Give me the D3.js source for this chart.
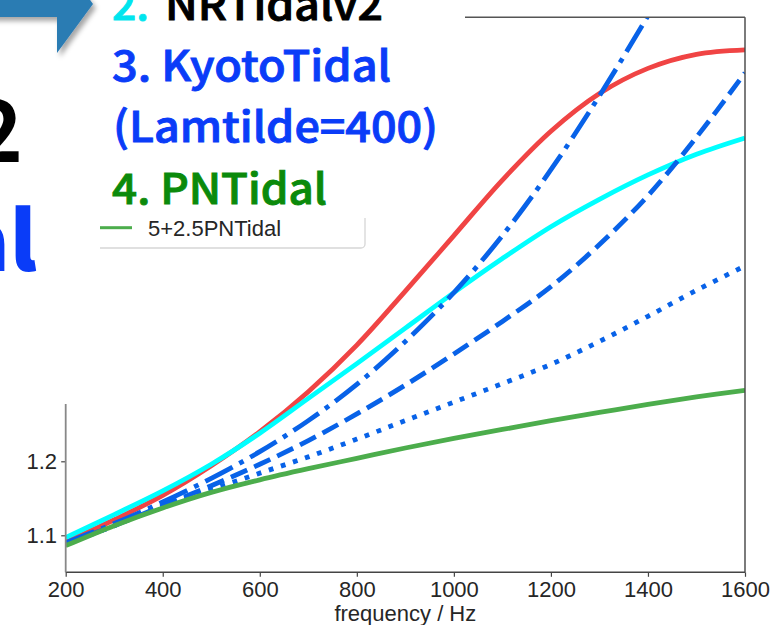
<!DOCTYPE html>
<html>
<head>
<meta charset="utf-8">
<script src="https://cdn.jsdelivr.net/npm/d3@7"></script>
<style>
  body { margin: 0; background: #fff; }
  svg { display: block; }
</style>
</head>
<body>
<svg id="chart" width="775" height="625"></svg>
<script>
// Frequencies (Hz) at which each tidal ratio curve is sampled
const freq = [200, 300, 400, 500, 600, 700, 800, 900, 1000, 1100, 1200, 1300, 1400, 1500, 1600];

// Curve values
const nrTidal      = [1.091, 1.121, 1.154, 1.194, 1.240, 1.294, 1.357, 1.430, 1.505, 1.580, 1.646, 1.697, 1.731, 1.750, 1.756];
const nrTidalV2    = [1.097, 1.128, 1.160, 1.196, 1.238, 1.285, 1.332, 1.380, 1.428, 1.474, 1.517, 1.554, 1.587, 1.615, 1.637];
const kyotoDashDot = [1.090, 1.116, 1.145, 1.177, 1.213, 1.255, 1.304, 1.362, 1.428, 1.505, 1.594, 1.694, 1.802, 1.915, 2.030];
const kyotoDashed  = [1.089, 1.113, 1.140, 1.167, 1.196, 1.228, 1.264, 1.303, 1.345, 1.389, 1.436, 1.493, 1.559, 1.638, 1.725];
const kyotoDotted  = [1.088, 1.113, 1.139, 1.162, 1.184, 1.206, 1.230, 1.255, 1.280, 1.305, 1.331, 1.362, 1.396, 1.431, 1.464];
const pnTidal      = [1.086, 1.113, 1.137, 1.158, 1.175, 1.190, 1.204, 1.218, 1.231, 1.243, 1.255, 1.266, 1.277, 1.287, 1.296];

// Axis ticks and labels
const xTicks = [200, 400, 600, 800, 1000, 1200, 1400, 1600];
const yTicks = [1.1, 1.2];
const xLabel = "frequency / Hz";
const legendLabel = "5+2.5PNTidal";

// Slide text beside the plot
const listLines = [
  { parts: [{ t: "2.", c: "#00e5ee", x: 112, w: 37 }, { t: "NRTidalv2", c: "#000000", x: 165, w: 218 }], y: 20 },
  { parts: [{ t: "3. KyotoTidal", c: "#0a3cf8", x: 112, w: 279 }], y: 81 },
  { parts: [{ t: "(Lamtilde=400)", c: "#0a3cf8", x: 113, w: 325 }], y: 142 },
  { parts: [{ t: "4. PNTidal", c: "#0b8a0b", x: 112, w: 215 }], y: 204 }
];

const series = [
  { values: nrTidal,      color: "#f04444", dash: null },
  { values: nrTidalV2,    color: "#00ffff", dash: null },
  { values: kyotoDashDot, color: "#0862e8", dash: "dashdot" },
  { values: kyotoDashed,  color: "#0862e8", dash: "dashed" },
  { values: kyotoDotted,  color: "#0862e8", dash: "dotted" },
  { values: pnTidal,      color: "#4cad4c", dash: null }
];

const lw = 4.8;
const dashes = {
  dashed:  [3.7 * lw, 1.6 * lw].join(","),
  dashdot: [6.4 * lw, 1.6 * lw, 1 * lw, 1.6 * lw].join(","),
  dotted:  [1 * lw, 1.65 * lw].join(",")
};

const svg = d3.select("#chart");
const plot = { left: 65.7, right: 745, top: 17.3, bottom: 572.3 };

const x = d3.scaleLinear().domain([200, 1600]).range([plot.left, plot.right]);
const y = d3.scaleLinear().domain([1.05, 1.8]).range([plot.bottom, plot.top]);

const defs = svg.append("defs");
defs.append("clipPath").attr("id", "plotClip")
  .append("rect")
  .attr("x", plot.left).attr("y", plot.top)
  .attr("width", plot.right - plot.left).attr("height", plot.bottom - plot.top);

const shadow = defs.append("filter").attr("id", "arrowShadow")
  .attr("x", "-20%").attr("y", "-20%").attr("width", "150%").attr("height", "150%");
shadow.append("feDropShadow")
  .attr("dx", 3).attr("dy", 4).attr("stdDeviation", 2.5)
  .attr("flood-color", "#000").attr("flood-opacity", 0.35);

const tickFont = "'Liberation Sans', Arial, Helvetica, sans-serif";
const textColor = "#262626";

// Curves
const line = d3.line()
  .x((d, i) => x(freq[i]))
  .y(d => y(d))
  .curve(d3.curveCatmullRom.alpha(0.5));

const curves = svg.append("g").attr("clip-path", "url(#plotClip)");
series.forEach(s => {
  curves.append("path")
    .datum(s.values)
    .attr("d", line)
    .attr("fill", "none")
    .attr("stroke", s.color)
    .attr("stroke-width", lw)
    .attr("stroke-linecap", "butt")
    .attr("stroke-dasharray", s.dash ? dashes[s.dash] : null);
});

// Axes
const xAxis = svg.append("g")
  .attr("transform", `translate(0,${plot.bottom})`)
  .call(d3.axisBottom(x).tickValues(xTicks).tickFormat(d3.format("d")).tickSize(4.5).tickPadding(4.3));
const yAxis = svg.append("g")
  .attr("transform", `translate(${plot.left},0)`)
  .call(d3.axisLeft(y).tickValues(yTicks).tickFormat(d3.format(".1f")).tickSize(4.5).tickPadding(4.2));

[xAxis, yAxis].forEach(g => {
  g.select(".domain").remove();
  g.selectAll(".tick line").attr("stroke", "#444").attr("stroke-width", 1.2);
  g.selectAll(".tick text")
    .attr("fill", textColor)
    .style("font-family", tickFont)
    .style("font-size", "22px");
});

// Spines
const spines = svg.append("g").attr("fill", "none").attr("stroke-width", 1.4);
spines.append("line").attr("x1", plot.left).attr("x2", plot.right).attr("y1", plot.bottom).attr("y2", plot.bottom).attr("stroke", "#444");
spines.append("line").attr("x1", plot.right).attr("x2", plot.right).attr("y1", plot.top).attr("y2", plot.bottom).attr("stroke", "#444");
spines.append("line").attr("x1", plot.left).attr("x2", plot.right).attr("y1", plot.top).attr("y2", plot.top).attr("stroke", "#555");
spines.append("line").attr("x1", plot.left).attr("x2", plot.left).attr("y1", plot.top).attr("y2", plot.bottom).attr("stroke", "#888").attr("stroke-width", 1.8);

svg.append("text")
  .attr("x", (plot.left + plot.right) / 2)
  .attr("y", 620.5)
  .attr("text-anchor", "middle")
  .attr("fill", textColor)
  .style("font-family", tickFont)
  .style("font-size", "22px")
  .text(xLabel);

// Legend (upper left of the axes)
const legend = svg.append("g");
legend.append("rect")
  .attr("x", 92).attr("y", 130).attr("width", 273).attr("height", 118)
  .attr("rx", 4).attr("fill", "#fff").attr("stroke", "#d6d6d6").attr("stroke-width", 1.3);
legend.append("line")
  .attr("x1", 100).attr("x2", 132).attr("y1", 227.7).attr("y2", 227.7)
  .attr("stroke", "#4cad4c").attr("stroke-width", 3);
legend.append("text")
  .attr("x", 148).attr("y", 235.5)
  .attr("fill", textColor)
  .style("font-family", tickFont)
  .style("font-size", "22px")
  .text(legendLabel);

// Slide panels laid over the figure
svg.append("rect").attr("x", 0).attr("y", 0).attr("width", 100).attr("height", 404).attr("fill", "#fff");
svg.append("rect").attr("x", 100).attr("y", 0).attr("width", 365).attr("height", 218).attr("fill", "#fff");

// Block arrow
const arrowPts = [[-10, -14], [57, -14], [57, -46], [93, 4], [57, 53], [57, 17], [-10, 17]];
svg.append("polygon")
  .attr("points", arrowPts.map(p => p.join(",")).join(" "))
  .attr("fill", "#2c7bb3")
  .attr("filter", "url(#arrowShadow)");

const slideFont = "'Noto Sans CJK JP', 'Noto Sans', sans-serif";

svg.append("text")
  .attr("x", 23).attr("y", 162)
  .attr("text-anchor", "end")
  .attr("fill", "#000")
  .style("font-family", slideFont).style("font-weight", 700).style("font-size", "86px")
  .text("2");

svg.append("text")
  .attr("x", 37).attr("y", 271)
  .attr("text-anchor", "end")
  .attr("fill", "#0a3cf8")
  .style("font-family", slideFont).style("font-weight", 900).style("font-size", "82px")
  .text("al");

listLines.forEach(ln => {
  ln.parts.forEach(p => {
    svg.append("text")
      .attr("x", p.x).attr("y", ln.y)
      .attr("fill", p.c)
      .attr("stroke", p.c)
      .attr("stroke-width", 0.9)
      .attr("textLength", p.w)
      .attr("lengthAdjust", "spacingAndGlyphs")
      .style("font-family", slideFont).style("font-weight", 500).style("font-size", "42px")
      .text(p.t);
  });
});
</script>
</body>
</html>
